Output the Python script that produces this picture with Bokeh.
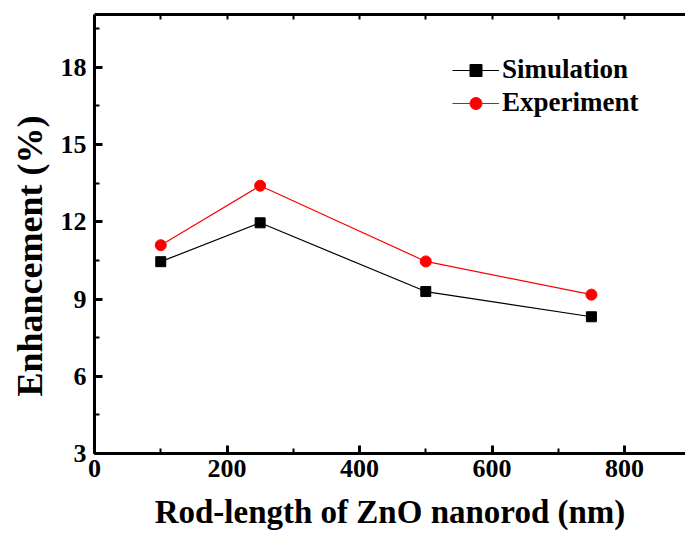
from bokeh.plotting import figure
from bokeh.models import Range1d, LinearAxis, Legend, LegendItem, SingleIntervalTicker, FixedTicker, Title
from bokeh.embed import file_html
from bokeh.resources import INLINE

rod_length = [100, 250, 500, 750]
simulation = [10.45, 11.96, 9.29, 8.31]
experiment = [11.09, 13.40, 10.46, 9.17]
top_ticks = [100, 200, 300, 400, 500, 600, 700, 800]

FONT = "Liberation Serif"

p = figure(width=685, height=532, output_backend="svg", toolbar_location=None,
           x_range=Range1d(0, 892), y_range=Range1d(3, 20.05),
           min_border_left=94, min_border_right=0, min_border_top=14, min_border_bottom=76)
p.outline_line_color = None
p.grid.visible = False
p.background_fill_color = "white"
p.border_fill_color = "white"

p.xaxis.ticker = SingleIntervalTicker(interval=200, num_minor_ticks=2)
p.yaxis.ticker = SingleIntervalTicker(interval=3, num_minor_ticks=2)

for ax in (p.xaxis[0], p.yaxis[0]):
    ax.axis_line_width = 3
    ax.major_tick_line_width = 3
    ax.minor_tick_line_width = 2
    ax.major_tick_in = 8
    ax.major_tick_out = 0
    ax.minor_tick_in = 5
    ax.minor_tick_out = 0
    ax.major_label_text_font = FONT
    ax.major_label_text_font_style = "bold"
    ax.major_label_text_font_size = "26px"
    ax.major_label_text_color = "black"
    ax.axis_label_text_font = FONT
    ax.axis_label_text_font_style = "bold"
    ax.axis_label_text_color = "black"

p.xaxis.axis_label = "Rod-length of ZnO nanorod (nm)"
p.xaxis.axis_label_text_font_size = "33px"
p.xaxis.major_label_standoff = 6
p.yaxis.major_label_standoff = 8
p.xaxis.axis_label_standoff = 14

top = LinearAxis(ticker=FixedTicker(ticks=[], minor_ticks=top_ticks))
top.axis_line_width = 3
top.minor_tick_line_width = 2
top.minor_tick_in = 5
top.minor_tick_out = 0
p.add_layout(top, "above")

ytitle = Title(text="Enhancement (%)", align="left", offset=57, standoff=15,
               text_font=FONT, text_font_style="bold", text_font_size="36px",
               text_color="black")
p.add_layout(ytitle, "left")

l1 = p.line(rod_length, simulation, line_color="black", line_width=1.2)
s1 = p.scatter(rod_length, simulation, marker="square", size=10, fill_color="black", line_color="black")
l2 = p.line(rod_length, experiment, line_color="red", line_width=1.2)
s2 = p.scatter(rod_length, experiment, marker="circle", size=11, fill_color="red", line_color="red")

legend = Legend(items=[LegendItem(label="Simulation", renderers=[l1, s1]),
                       LegendItem(label="Experiment", renderers=[l2, s2])],
                location=(358, 335), padding=0, margin=0, spacing=2,
                label_height=30, glyph_height=30, glyph_width=47, label_standoff=3,
                label_text_font=FONT, label_text_font_style="bold",
                label_text_font_size="27px", label_text_color="black",
                border_line_color=None, background_fill_alpha=0)
p.add_layout(legend, "center")

open("out.html", "w").write(file_html(p, INLINE))
